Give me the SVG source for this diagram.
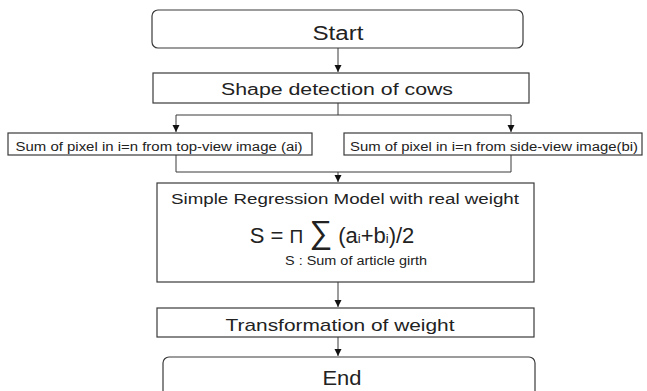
<svg xmlns="http://www.w3.org/2000/svg" width="647" height="391" viewBox="0 0 647 391">
<style>
.box{fill:#fff;stroke:#3a3a3a;stroke-width:1.2}
.t{font-family:"Liberation Sans","DejaVu Sans",sans-serif;fill:#222;text-anchor:middle}
.c{fill:none;stroke:#3a3a3a;stroke-width:1}
</style>
<defs>
<marker id="ah" markerWidth="8" markerHeight="8" refX="7" refY="4" orient="auto" markerUnits="userSpaceOnUse">
<path d="M0,0.5 L7,4 L0,7.5 Z" fill="#111"/>
</marker>
</defs>
<g id="connectors">
<path class="c" d="M338,48 V72" marker-end="url(#ah)"/>
<path class="c" d="M338,103 V115 M176,115 H511"/>
<path class="c" d="M176,115 V132" marker-end="url(#ah)"/>
<path class="c" d="M511,115 V132" marker-end="url(#ah)"/>
<path class="c" d="M176,155 V172 H511 V155"/>
<path class="c" d="M338,172 V182" marker-end="url(#ah)"/>
<path class="c" d="M338,282 V307" marker-end="url(#ah)"/>
<path class="c" d="M338,337 V356" marker-end="url(#ah)"/>
</g>
<g id="start">
<rect class="box" x="152" y="10" width="371" height="38" rx="6"/>
<text class="t" x="338" y="40" font-size="20" textLength="51" lengthAdjust="spacingAndGlyphs">Start</text>
</g>
<g id="shape">
<rect class="box" x="153" y="73" width="376" height="30"/>
<text class="t" x="337" y="95" font-size="16" textLength="232" lengthAdjust="spacingAndGlyphs">Shape detection of cows</text>
</g>
<g id="topview">
<rect class="box" x="8" y="133" width="304" height="22"/>
<text class="t" x="159" y="151" font-size="12" textLength="287" lengthAdjust="spacingAndGlyphs">Sum of pixel in i=n from top-view image (ai)</text>
</g>
<g id="sideview">
<rect class="box" x="344" y="133" width="298" height="22"/>
<text class="t" x="494" y="151" font-size="12" textLength="288" lengthAdjust="spacingAndGlyphs">Sum of pixel in i=n from side-view image(bi)</text>
</g>
<g id="regression">
<rect class="box" x="157" y="183" width="377" height="99"/>
<text class="t" x="345" y="204" font-size="14" textLength="348" lengthAdjust="spacingAndGlyphs">Simple Regression Model with real weight</text>
<text class="t" x="332" y="243" font-size="22">S = <tspan font-size="19">Π</tspan> <tspan font-size="32">∑</tspan> (a<tspan font-size="13">i</tspan>+b<tspan font-size="13">i</tspan>)/2</text>
<text class="t" x="356" y="265" font-size="12" textLength="142" lengthAdjust="spacingAndGlyphs">S : Sum of article girth</text>
</g>
<g id="transform">
<rect class="box" x="157" y="308" width="377" height="29"/>
<text class="t" x="340" y="331" font-size="17" textLength="229" lengthAdjust="spacingAndGlyphs">Transformation of weight</text>
</g>
<g id="end">
<rect class="box" x="163" y="357" width="372" height="44" rx="6"/>
<text class="t" x="342" y="385" font-size="20" textLength="39" lengthAdjust="spacingAndGlyphs">End</text>
</g>
</svg>
